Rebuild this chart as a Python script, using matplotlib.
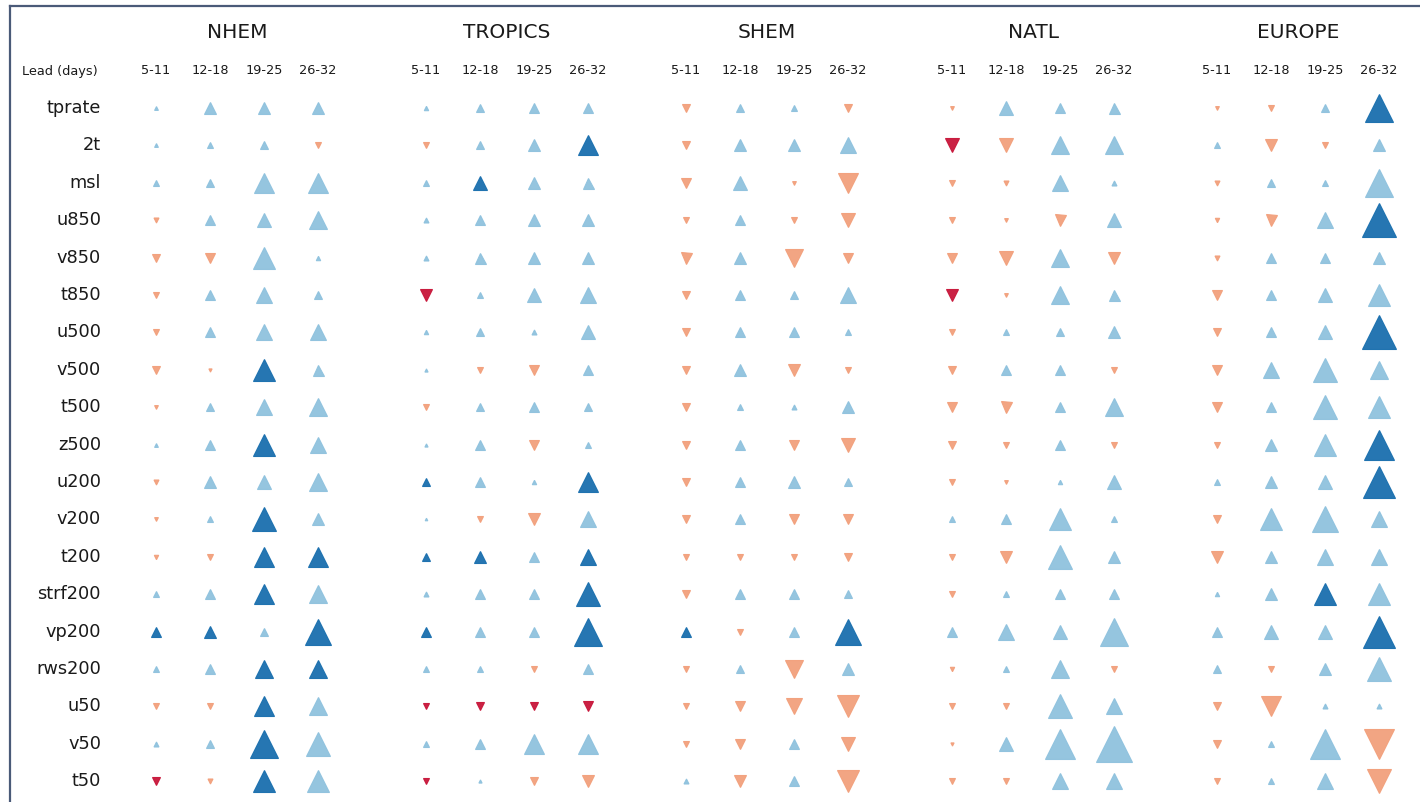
import numpy as np
import matplotlib
matplotlib.use("Agg")
import matplotlib.pyplot as plt
from matplotlib.lines import Line2D

regions = ["NHEM", "TROPICS", "SHEM", "NATL", "EUROPE"]
leads = ["5-11", "12-18", "19-25", "26-32"]
variables = ["tprate", "2t", "msl", "u850", "v850", "t850", "u500", "v500",
             "t500", "z500", "u200", "v200", "t200", "strf200", "vp200",
             "rws200", "u50", "v50", "t50"]

# score change per variable: one list per region, 4 lead windows each
nhem = [
    [0.3, 1.8, 1.6, 1.8], [0.3, 0.6, 1.1, -0.6], [0.8, 1.1, 3.0, 3.0],
    [-0.5, 1.4, 2.0, 2.8], [-1.0, -1.2, 3.3, 0.4], [-0.8, 1.2, 2.2, 1.0],
    [-0.8, 1.2, 2.3, 2.2], [-1.0, -0.2, 3.3, 1.5], [-0.3, 1.0, 2.4, 2.6],
    [0.3, 1.2, 3.2, 2.3], [-0.5, 1.8, 2.0, 2.6], [-0.3, 0.8, 3.7, 1.6],
    [-0.4, -0.6, 3.0, 3.0], [0.6, 1.4, 3.0, 2.6], [1.3, 1.8, 1.1, 4.0],
    [0.6, 1.3, 2.8, 2.8], [-0.8, -0.6, 3.0, 2.8], [0.5, 1.1, 4.4, 3.6],
    [-1.0, -0.5, 3.3, 3.3],
]
tropics = [
    [0.4, 1.1, 1.3, 1.3], [-0.8, 1.1, 1.6, 3.0], [0.6, 2.0, 1.7, 1.5],
    [0.5, 1.4, 1.8, 1.7], [0.5, 1.5, 1.6, 1.8], [-1.8, 0.8, 2.0, 2.2],
    [0.4, 1.0, 0.5, 2.0], [0.2, -0.8, -1.2, 1.4], [-0.6, 1.0, 1.2, 1.0],
    [0.2, 1.2, -1.2, 0.8], [1.0, 1.2, 0.4, 3.0], [0.1, -0.8, -1.8, 2.4],
    [1.0, 1.6, 1.3, 2.2], [0.5, 1.2, 1.2, 3.7], [1.4, 1.2, 1.2, 4.3],
    [0.8, 0.8, -0.8, 1.4], [-0.8, -0.9, -1.1, -1.3], [0.8, 1.2, 3.0, 3.0],
    [-0.8, 0.2, -1.0, -1.6],
]
shem = [
    [-1.0, 1.0, 0.6, -1.0], [-1.0, 1.8, 1.8, 2.4], [-1.2, 2.0, -0.3, -3.0],
    [-0.8, 1.2, -0.6, -2.0], [-1.5, 1.8, -2.8, -1.2], [-1.0, 1.4, 1.0, 2.4],
    [-1.0, 1.2, 1.2, 0.6], [-1.0, 1.8, -1.8, -0.8], [-1.0, 0.8, 0.5, 1.6],
    [-1.0, 1.4, -1.4, -2.0], [-0.9, 1.4, 1.6, 1.0], [-1.0, 1.4, -1.2, -1.2],
    [-0.8, -0.8, -0.8, -1.0], [-1.0, 1.2, 1.2, 1.0], [1.4, -0.6, 1.2, 4.0],
    [-0.6, 1.0, -2.8, 1.6], [-0.7, -1.4, -2.2, -3.4], [-0.8, -1.4, 1.4, -1.9],
    [0.5, -1.8, 1.4, -3.4],
]
natl = [
    [-0.3, 2.0, 1.2, 1.5], [-2.0, -2.0, 2.8, 2.8], [-0.8, -0.5, 2.2, 0.5],
    [-0.8, -0.3, -1.5, 2.0], [-1.2, -2.0, 2.6, -1.8], [-1.8, -0.3, 2.8, 1.5],
    [-0.8, 0.8, 1.0, 1.6], [-1.0, 1.4, 1.4, -0.6], [-1.2, -1.5, 1.4, 2.6],
    [-1.0, -0.8, 1.4, -0.8], [-0.8, -0.3, 0.4, 2.0], [0.6, 1.4, 3.2, 0.6],
    [-0.8, -1.8, 3.6, 1.6], [-0.6, 0.6, 1.4, 1.4], [1.4, 2.2, 2.0, 4.3],
    [-0.4, 0.8, 2.6, -0.8], [-0.8, -0.8, 3.6, 2.4], [-0.2, 2.0, 4.7, 5.6],
    [-0.8, -0.6, 2.2, 2.2],
]
europe = [
    [-0.3, -0.8, 1.0, 4.3], [0.7, -1.8, -0.8, 1.8], [-0.5, 1.0, 0.7, 4.4],
    [-0.4, -1.5, 2.4, 5.3], [-0.5, 1.4, 1.2, 1.8], [-1.2, 1.4, 2.0, 3.3],
    [-0.9, 1.2, 2.0, 5.3], [-1.2, 2.2, 3.6, 2.8], [-1.2, 1.4, 3.6, 3.3],
    [-0.7, 1.6, 3.2, 4.6], [0.6, 1.6, 2.0, 5.0], [-1.0, 3.2, 3.9, 2.2],
    [-1.6, 1.6, 2.4, 2.4], [0.4, 1.6, 3.3, 3.3], [1.2, 2.0, 2.0, 5.0],
    [1.0, -0.8, 1.8, 3.6], [-1.0, -3.0, 0.5, 0.5], [-1.0, 0.8, 4.6, -4.6],
    [-0.8, 0.6, 2.2, -3.6],
]

# statistically significant cells: (region, variable, lead)
significant = [
    ("NHEM", "v500", "19-25"), ("NHEM", "z500", "19-25"),
    ("NHEM", "v200", "19-25"), ("NHEM", "t200", "19-25"),
    ("NHEM", "t200", "26-32"), ("NHEM", "strf200", "19-25"),
    ("NHEM", "vp200", "5-11"), ("NHEM", "vp200", "12-18"),
    ("NHEM", "vp200", "26-32"), ("NHEM", "rws200", "19-25"),
    ("NHEM", "rws200", "26-32"), ("NHEM", "u50", "19-25"),
    ("NHEM", "v50", "19-25"), ("NHEM", "t50", "5-11"),
    ("NHEM", "t50", "19-25"),
    ("TROPICS", "2t", "26-32"), ("TROPICS", "msl", "12-18"),
    ("TROPICS", "t850", "5-11"), ("TROPICS", "u200", "5-11"),
    ("TROPICS", "u200", "26-32"), ("TROPICS", "t200", "5-11"),
    ("TROPICS", "t200", "12-18"), ("TROPICS", "t200", "26-32"),
    ("TROPICS", "strf200", "26-32"), ("TROPICS", "vp200", "5-11"),
    ("TROPICS", "vp200", "26-32"), ("TROPICS", "u50", "5-11"),
    ("TROPICS", "u50", "12-18"), ("TROPICS", "u50", "19-25"),
    ("TROPICS", "u50", "26-32"), ("TROPICS", "t50", "5-11"),
    ("SHEM", "vp200", "5-11"), ("SHEM", "vp200", "26-32"),
    ("NATL", "2t", "5-11"), ("NATL", "t850", "5-11"),
    ("EUROPE", "tprate", "26-32"), ("EUROPE", "u850", "26-32"),
    ("EUROPE", "u500", "26-32"), ("EUROPE", "z500", "26-32"),
    ("EUROPE", "u200", "26-32"), ("EUROPE", "strf200", "19-25"),
    ("EUROPE", "vp200", "26-32"),
]

scores = {"NHEM": nhem, "TROPICS": tropics, "SHEM": shem,
          "NATL": natl, "EUROPE": europe}

# palette (RdBu-like)
C_POS_SIG = "#1a6fae"
C_POS = "#8fc2de"
C_NEG = "#f2a07c"
C_NEG_SIG = "#c8163a"

W, H = 1420, 802
fig = plt.figure(figsize=(W / 100, H / 100), dpi=100)
ax = fig.add_axes([0, 0, 1, 1])
ax.set_xlim(0, W)
ax.set_ylim(H, 0)
ax.axis("off")

# layout (pixel units)
group_x0 = [156, 426, 686, 952, 1217]
lead_step = 54
y_first, row_step = 108, 37.4
y_title, y_lead = 33, 71

sig_set = set(significant)

for g, reg in enumerate(regions):
    xs = [group_x0[g] + l * lead_step for l in range(len(leads))]
    ax.text(np.mean(xs), y_title, reg, ha="center", va="center",
            fontsize=14.5, color="#1a1a1a")
    for l, lab in enumerate(leads):
        ax.text(xs[l], y_lead, lab, ha="center", va="center",
                fontsize=9.3, color="#1a1a1a")
    for r, var in enumerate(variables):
        y = y_first + r * row_step
        for l, lead in enumerate(leads):
            v = scores[reg][r][l]
            sig = (reg, var, lead) in sig_set
            if v >= 0:
                mk = "^"
                col = C_POS_SIG if sig else C_POS
            else:
                mk = "v"
                col = C_NEG_SIG if sig else C_NEG
            size_px = 2.0 + 6.0 * abs(v)
            ax.plot(xs[l], y, marker=mk, markersize=size_px * 0.72,
                    markerfacecolor=col, markeredgecolor=col,
                    markeredgewidth=0.8, alpha=0.95, linestyle="none")

ax.text(22, y_lead, "Lead (days)", ha="left", va="center",
        fontsize=9.3, color="#1a1a1a")
for r, var in enumerate(variables):
    ax.text(101, y_first + r * row_step, var, ha="right", va="center",
            fontsize=12.8, color="#1a1a1a")

# frame along the top and left edges
ax.add_line(Line2D([10, 10], [6, H], color="#4a5a78", linewidth=1.6))
ax.add_line(Line2D([10, W], [6, 6], color="#4a5a78", linewidth=1.6))

fig.savefig("out.png", dpi=100, facecolor="white")
